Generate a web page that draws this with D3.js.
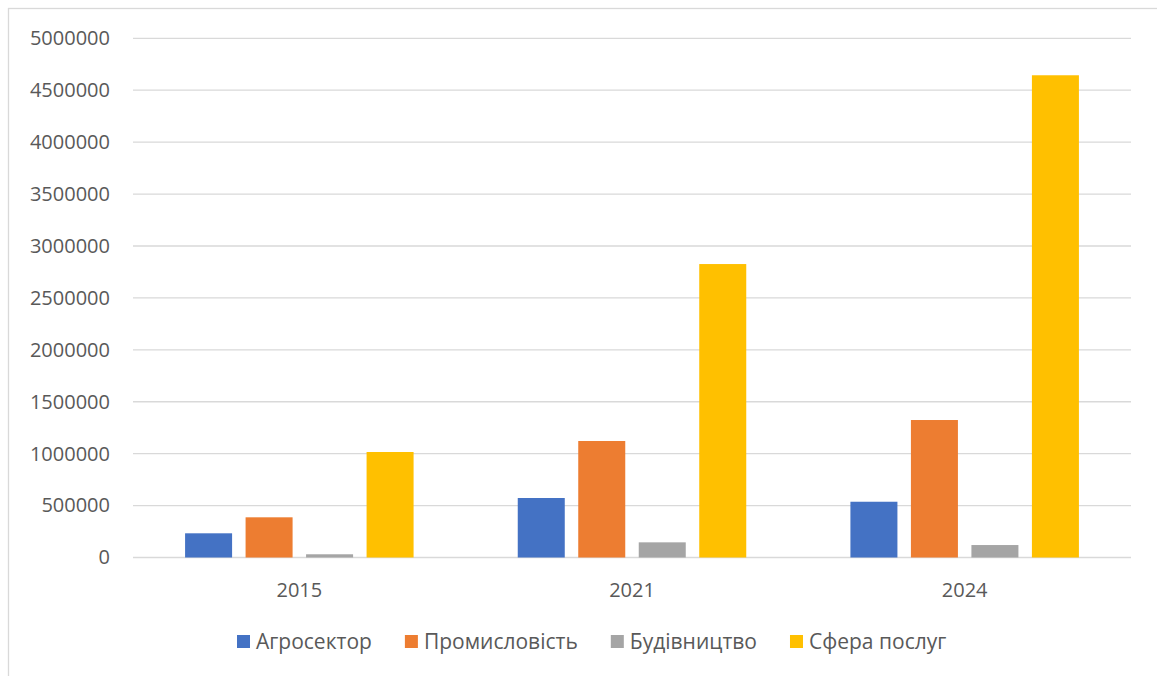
<!DOCTYPE html>
<html>
<head>
<meta charset="utf-8">
<script src="https://cdn.jsdelivr.net/npm/d3@7"></script>
<style>
  body { margin: 0; background: #fff; }
  svg { display: block; }
  text { font-family: "Open Sans", "Noto Sans", sans-serif; fill: #595959; }
</style>
</head>
<body>
<svg id="chart" width="1157" height="676"></svg>
<script>
// Years on the category axis
const years = ["2015", "2021", "2024"];
// Sector names (legend order)
const sectors = ["Агросектор", "Промисловість", "Будівництво", "Сфера послуг"];
const sectorColors = ["#4472c4", "#ed7d31", "#a5a5a5", "#ffc000"];
// Values per sector, one per year
const agro = [233000, 573000, 537000];
const industry = [387000, 1122000, 1324000];
const construction = [31000, 146000, 120000];
const services = [1016000, 2826000, 4644000];
const seriesValues = [agro, industry, construction, services];
// Y-axis tick values
const yTicks = [0, 500000, 1000000, 1500000, 2000000, 2500000, 3000000, 3500000, 4000000, 4500000, 5000000];

const svg = d3.select("#chart");
const W = 1157, H = 676;

// chart frame
svg.append("rect")
  .attr("x", 8.5).attr("y", 8.5)
  .attr("width", W + 20).attr("height", H + 20)
  .attr("fill", "#fff").attr("stroke", "#d9d9d9").attr("stroke-width", 1.3);

const plot = { left: 133, right: 1131, top: 38.3, bottom: 557.5 };

const y = d3.scaleLinear().domain([0, 5000000]).range([plot.bottom, plot.top]);
const x0 = d3.scaleBand().domain(years).range([plot.left, plot.right]).padding(0);
const groupWidth = 228.5;
const x1 = d3.scaleBand().domain(sectors).range([0, groupWidth]).paddingInner(0.223).paddingOuter(0);

// gridlines
svg.append("g")
  .selectAll("line")
  .data(yTicks)
  .join("line")
  .attr("x1", plot.left).attr("x2", plot.right)
  .attr("y1", d => y(d)).attr("y2", d => y(d))
  .attr("stroke", "#d9d9d9").attr("stroke-width", 1.3);

// y-axis labels
const yAxis = d3.axisLeft(y).tickValues(yTicks).tickSize(0).tickPadding(0).tickFormat(d3.format("d"));
const yg = svg.append("g").attr("transform", `translate(110,0)`).call(yAxis);
yg.select(".domain").remove();
yg.selectAll("text")
  .attr("font-size", 20)
  .attr("font-family", null)
  .attr("fill", "#595959");

// bars
const groups = svg.append("g")
  .selectAll("g")
  .data(years)
  .join("g")
  .attr("transform", d => `translate(${x0(d) + (x0.bandwidth() - groupWidth) / 2},0)`);

groups.selectAll("rect")
  .data((yr, i) => sectors.map((s, k) => ({ sector: s, value: seriesValues[k][i], color: sectorColors[k] })))
  .join("rect")
  .attr("x", d => x1(d.sector))
  .attr("width", x1.bandwidth())
  .attr("y", d => y(d.value))
  .attr("height", d => y(0) - y(d.value))
  .attr("fill", d => d.color);

// x-axis labels
const xAxis = d3.axisBottom(x0).tickSize(0).tickPadding(0);
const xg = svg.append("g").attr("transform", `translate(0,${plot.bottom + 24})`).call(xAxis);
xg.select(".domain").remove();
xg.selectAll("text")
  .attr("font-size", 20)
  .attr("font-family", null)
  .attr("fill", "#595959")
  .attr("dy", "0.35em")
  .attr("y", 8);

// legend
const legend = svg.append("g").attr("transform", "translate(0,642)");
let lx = 237;
sectors.forEach((s, k) => {
  legend.append("rect")
    .attr("x", lx).attr("y", -7)
    .attr("width", 13).attr("height", 13)
    .attr("fill", sectorColors[k]);
  const t = legend.append("text")
    .attr("x", lx + 19).attr("y", 0)
    .attr("dy", "0.35em")
    .attr("font-size", 21)
    .text(s);
  lx += 19 + t.node().getComputedTextLength() + 33;
});
</script>
</body>
</html>
